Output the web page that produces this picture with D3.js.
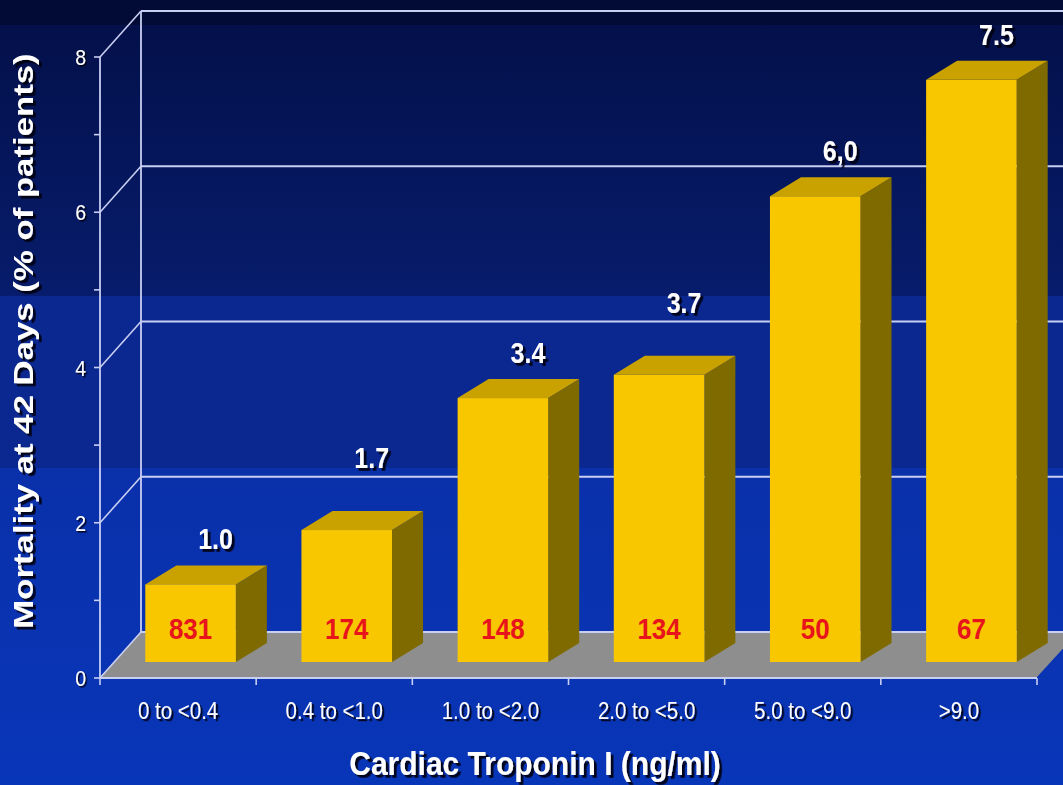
<!DOCTYPE html>
<html>
<head>
<meta charset="utf-8">
<script src="https://cdn.jsdelivr.net/npm/d3@7"></script>
<style>
html,body{margin:0;padding:0;background:#0834b5;}
svg{display:block;}
text{font-family:Arial,"Liberation Sans",Helvetica,sans-serif;}
</style>
</head>
<body>
<svg id="chart" width="1063" height="785"></svg>
<script>
// ---- data ----
const categories = ["0 to <0.4", "0.4 to <1.0", "1.0 to <2.0", "2.0 to <5.0", "5.0 to <9.0", ">9.0"];
const mortality = [1.0, 1.7, 3.4, 3.7, 6.0, 7.5];
const valueLabels = ["1.0", "1.7", "3.4", "3.7", "6,0", "7.5"];
const patients = [831, 174, 148, 134, 50, 67];
const yMajorTicks = [0, 2, 4, 6, 8];
const yMinorTicks = [1, 3, 5, 7];
const xTitle = "Cardiac Troponin I (ng/ml)";
const yTitle = "Mortality at 42 Days (% of patients)";

// ---- layout ----
const W = 1063, H = 785;
const svg = d3.select("#chart");

const defs = svg.append("defs");
const g1 = defs.append("linearGradient").attr("id","bgTop").attr("x1",0).attr("y1",0).attr("x2",0).attr("y2",1);
g1.append("stop").attr("offset","0%").attr("stop-color","#03104a");
g1.append("stop").attr("offset","100%").attr("stop-color","#071c6c");
const g3 = defs.append("linearGradient").attr("id","bgBot").attr("x1",0).attr("y1",0).attr("x2",0).attr("y2",1);
g3.append("stop").attr("offset","0%").attr("stop-color","#0a30aa");
g3.append("stop").attr("offset","100%").attr("stop-color","#0836b8");
function shadowFilter(id, d) {
  defs.append("filter").attr("id", id).attr("x", "-20%").attr("y", "-20%").attr("width", "140%").attr("height", "140%")
    .append("feDropShadow").attr("dx", d).attr("dy", d).attr("stdDeviation", 0.5)
    .attr("flood-color", "#000010").attr("flood-opacity", 0.9);
}
shadowFilter("sh1", 1.5);
shadowFilter("sh2", 2.2);
shadowFilter("sh3", 2.8);

svg.append("rect").attr("x",0).attr("y",0).attr("width",W).attr("height",25).attr("fill","#020a36");
svg.append("rect").attr("x",0).attr("y",25).attr("width",W).attr("height",271).attr("fill","url(#bgTop)");
svg.append("rect").attr("x",0).attr("y",296).attr("width",W).attr("height",172).attr("fill","#0a2890");
svg.append("rect").attr("x",0).attr("y",468).attr("width",W).attr("height",H-468).attr("fill","url(#bgBot)");

// scales (front plane)
const y = d3.scaleLinear().domain([0, 8]).range([678, 57]);
const x = d3.scaleBand().domain(categories).range([100, 1037]).padding(0);
const bw = x.bandwidth();
const depthX = 41, depthY = -46;      // wall depth offset
const barShiftY = -16;                // bars sit mid-depth
const barDX = 31, barDY = -19;        // bar side depth
const lineColor = "#c9cff2";

// floor
const floor = d3.path();
floor.moveTo(100, y(0) - 1);
floor.lineTo(1037, y(0) - 1);
floor.lineTo(1037 + depthX, y(0) + depthY);
floor.lineTo(100 + depthX, y(0) + depthY);
floor.closePath();
svg.append("path").attr("d", floor.toString()).attr("fill", "#8e8e8e");

// back wall gridlines
const grid = svg.append("g");
grid.selectAll("line.h").data(yMajorTicks).join("line")
  .attr("x1", 100 + depthX).attr("x2", W + 5)
  .attr("y1", d => y(d) + depthY).attr("y2", d => y(d) + depthY)
  .attr("stroke", lineColor).attr("stroke-width", 2.2);
grid.selectAll("line.d").data(yMajorTicks).join("line")
  .attr("x1", 100).attr("y1", d => y(d))
  .attr("x2", 100 + depthX).attr("y2", d => y(d) + depthY)
  .attr("stroke", lineColor).attr("stroke-width", 1.6);
grid.append("line")
  .attr("x1", 100 + depthX).attr("x2", 100 + depthX)
  .attr("y1", y(8) + depthY).attr("y2", y(0) + depthY)
  .attr("stroke", lineColor).attr("stroke-width", 1.8);

// front y axis
const yAxis = svg.append("g");
yAxis.append("line").attr("x1",100).attr("x2",100).attr("y1",y(8)).attr("y2",y(0))
  .attr("stroke", lineColor).attr("stroke-width", 1.8);
yAxis.selectAll("line.t").data(yMajorTicks.concat(yMinorTicks)).join("line")
  .attr("x1", 94).attr("x2", 100).attr("y1", d => y(d)).attr("y2", d => y(d))
  .attr("stroke", lineColor).attr("stroke-width", 1.6);

// stretched text, optional drop shadow (filter applied in screen space)
function sText(parent, tx, ty, str, opts) {
  const outer = parent.append("g");
  if (opts.shadow) outer.attr("filter", `url(#${opts.shadow})`);
  const g = outer.append("g").attr("transform", `translate(${tx},${ty}) scale(${opts.sx||1},${opts.sy||1.15})${opts.rot ? " rotate(" + opts.rot + ")" : ""}`);
  g.append("text").text(str).attr("x", 0).attr("y", 0)
    .attr("text-anchor", opts.anchor || "middle")
    .attr("font-size", opts.size).attr("font-weight", opts.weight || "normal")
    .attr("fill", opts.fill || "#ffffff");
  return outer;
}

// y tick labels
const yLab = svg.append("g");
yMajorTicks.forEach(t => {
  sText(yLab, 86, y(t) + 8, String(t), {size: 19.5, anchor: "end", shadow: "sh1", sy: 1.15});
});

// x axis line & ticks
const xAxis = svg.append("g");
xAxis.append("line").attr("x1", 100).attr("x2", 1037).attr("y1", y(0)).attr("y2", y(0))
  .attr("stroke", lineColor).attr("stroke-width", 1.8);
const bounds = categories.map(c => x(c)).concat([x(categories[categories.length-1]) + bw]);
xAxis.selectAll("line.t").data(bounds).join("line")
  .attr("x1", d => d).attr("x2", d => d).attr("y1", y(0)).attr("y2", y(0) + 7)
  .attr("stroke", lineColor).attr("stroke-width", 1.6);
categories.forEach(c => {
  sText(xAxis, x(c) + bw / 2, 719, c, {size: 20.5, shadow: "sh2", sy: 1.15});
});

// bars
const bars = svg.append("g");
categories.forEach((c, i) => {
  const v = mortality[i];
  const fx = x(c) + bw * 0.29;
  const fw = bw * 0.58;
  const top = y(v) + barShiftY;
  const base = y(0) + barShiftY;
  bars.append("path").attr("d", `M${fx+fw},${top} L${fx+fw+barDX},${top+barDY} L${fx+fw+barDX},${base+barDY} L${fx+fw},${base} Z`)
    .attr("fill", "#7f6a00");
  bars.append("path").attr("d", `M${fx},${top} L${fx+barDX},${top+barDY} L${fx+fw+barDX},${top+barDY} L${fx+fw},${top} Z`)
    .attr("fill", "#c9a200");
  bars.append("rect").attr("x", fx).attr("y", top).attr("width", fw).attr("height", base - top)
    .attr("fill", "#f8c700");
  sText(bars, fx + fw / 2, 639, String(patients[i]), {size: 26, weight: "bold", fill: "#e8141c", sy: 1.15});
  // value label (two labels sit higher to clear gridlines, as in the original)
  const lift = (i === 1 || i === 3) ? 27 : 0;
  sText(bars, fx + fw / 2 + 25, top - 35 - lift, valueLabels[i], {size: 25, weight: "bold", shadow: "sh3", sy: 1.15});
});

// axis titles
sText(svg, 535, 775, xTitle, {size: 30, weight: "bold", shadow: "sh3", sy: 1.13});
sText(svg, 33, 341, yTitle, {size: 28.5, weight: "bold", shadow: "sh3", sx: 1, sy: 1.22, rot: -90});
</script>
</body>
</html>
